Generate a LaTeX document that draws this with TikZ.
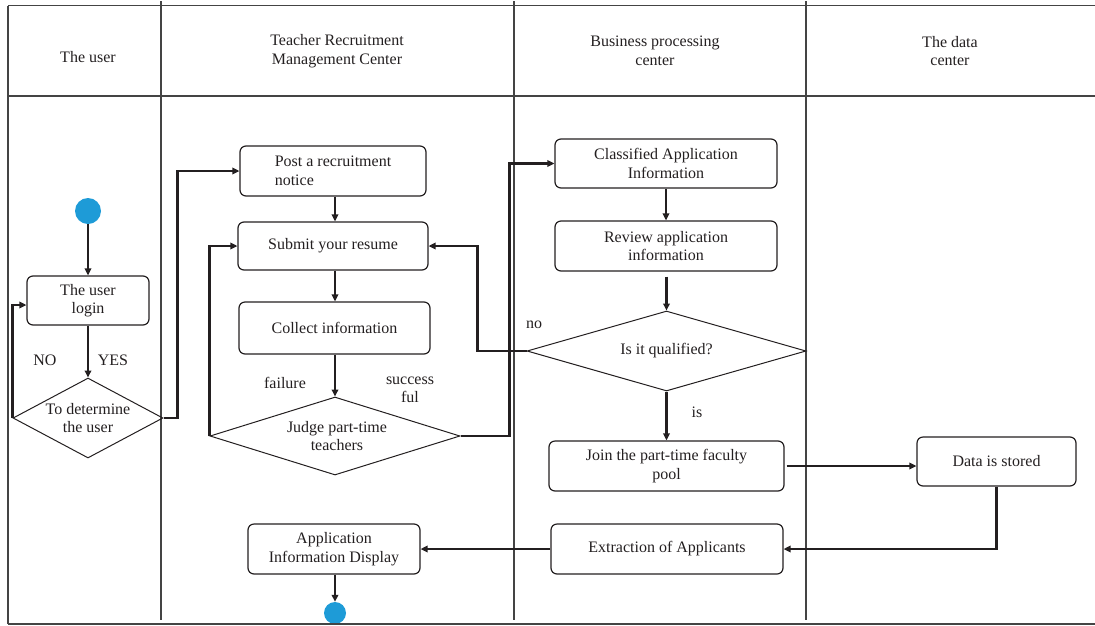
\documentclass[tikz,border=0pt]{standalone}
\usepackage{fontspec}
\setmainfont{Liberation Serif}
\usetikzlibrary{shapes.geometric,arrows.meta}
\definecolor{ink}{HTML}{231F20}
\definecolor{rule}{HTML}{444444}
\definecolor{dotblue}{HTML}{1E9BD7}
\begin{document}
\begin{tikzpicture}[x=1pt,y=-1pt,
  every node/.style={font=\fontsize{16}{18.5}\selectfont, text=ink},
  box/.style={draw=ink, line width=1.2pt, rounded corners=6pt, align=center, inner sep=2pt},
  dia/.style={diamond, draw=ink, line width=1pt, inner sep=0pt},
  flow/.style={draw=ink, line width=2.4pt, -{Triangle[length=7pt,width=6.5pt]}},
  lane/.style={draw=rule, line width=1.2pt},
  dot/.style={circle, fill=dotblue, inner sep=0pt},
  tag/.style={inner sep=0pt}
]
\useasboundingbox (0,0) rectangle (1095,625);

% swimlane frame
\draw[lane] (8,5.5) -- (1095,5.5);
\draw[lane] (8,96) -- (1095,96);
\draw[lane] (8,5.5) -- (8,624);
\draw[lane] (161,1) -- (161,620);
\draw[lane] (514,1) -- (514,620);
\draw[lane] (806,1) -- (806,620);

% lane headings
\node[align=center] (h1) at (88,57) {The user};
\node[align=center] (h2) at (337,51) {Teacher Recruitment\\Management Center};
\node[align=center] (h3) at (655,51) {Business processing\\center};
\node[align=center] (h4) at (950,51) {The data\\center};

% start and end points
\node[dot, minimum size=26pt] (start) at (88,211) {};
\node[dot, minimum size=22pt] (stop) at (335,613) {};
\draw[lane] (8,624) -- (1095,624);

% activities
\node[box, minimum width=122pt, minimum height=49pt] (login) at (88,300.5) {The user\\login};
\node[box, align=left, minimum width=186pt, minimum height=50pt] (post) at (333,171) {Post a recruitment\\notice};
\node[box, minimum width=190pt, minimum height=48pt] (submit) at (333,246) {Submit your resume};
\node[box, minimum width=191pt, minimum height=52pt] (collect) at (334.5,328) {Collect information};
\node[box, minimum width=222pt, minimum height=49pt] (classified) at (666,163.5) {Classified Application\\Information};
\node[box, minimum width=222pt, minimum height=50pt] (review) at (666,246) {Review application\\information};
\node[box, minimum width=235pt, minimum height=50pt] (join) at (666.5,466) {Join the part-time faculty\\pool};
\node[box, minimum width=159pt, minimum height=49pt] (data) at (996.5,461.5) {Data is stored};
\node[box, minimum width=232pt, minimum height=50pt] (extract) at (667,549) {Extraction of Applicants};
\node[box, minimum width=172pt, minimum height=50pt] (appinfo) at (334,549) {Application\\Information Display};

% decisions
\node[dia, minimum width=150pt, minimum height=80pt] (userchk) at (88,418) {};
\node[align=center] at (userchk) {To determine\\the user};
\node[dia, minimum width=250pt, minimum height=78pt] (judge) at (335,436) {};
\node[align=center] at ([xshift=2pt]judge.center) {Judge part-time\\teachers};
\node[dia, minimum width=279pt, minimum height=80pt] (qual) at (666.5,351) {};
\node at (qual) {Is it qualified?};

% flow
\draw[flow] (start) -- (login);
\draw[flow] (login) -- (userchk);
\draw[flow] (userchk.west) |- ([yshift=-4.5pt]login.west);
\draw[flow] (userchk.east) -- ++(14,0) |- (post.west);
\draw[flow] (post.south -| judge.north) -- (submit.north -| judge.north);
\draw[flow] (submit.south -| judge.north) -- (collect.north -| judge.north);
\draw[flow] (collect.south -| judge.north) -- (judge.north);
\draw[flow] (judge.west) |- (submit.west);
\draw[flow] (judge.east) -- ++(49,0) |- (classified.west);
\draw[flow] (classified) -- (review);
\draw[flow, shorten <=5pt] (review.south -| qual.north) -- (qual.north);
\draw[flow] (qual.west) -- ++(-49,0) |- (submit.east);
\draw[flow] (qual.south) -- (qual.south |- join.north);
\draw[flow] ([xshift=2pt]join.east) -- (join.east -| data.west);
\draw[flow] (data.south) |- (extract.east);
\draw[flow] (extract.west) -- (appinfo.east);
\draw[flow, line width=2pt] (appinfo.south -| stop.north) -- (stop.north);

% branch labels
\node[tag] (lno) at (45,360) {NO};
\node[tag] (lyes) at (113,360) {YES};
\node[tag] (lfail) at (285,383) {failure};
\node[tag, align=center] (lok) at (410,390) {success\\ful};
\node[tag] (lno2) at (534,325) {no};
\node[tag] (lis) at (697,412) {is};
\end{tikzpicture}
\end{document}
